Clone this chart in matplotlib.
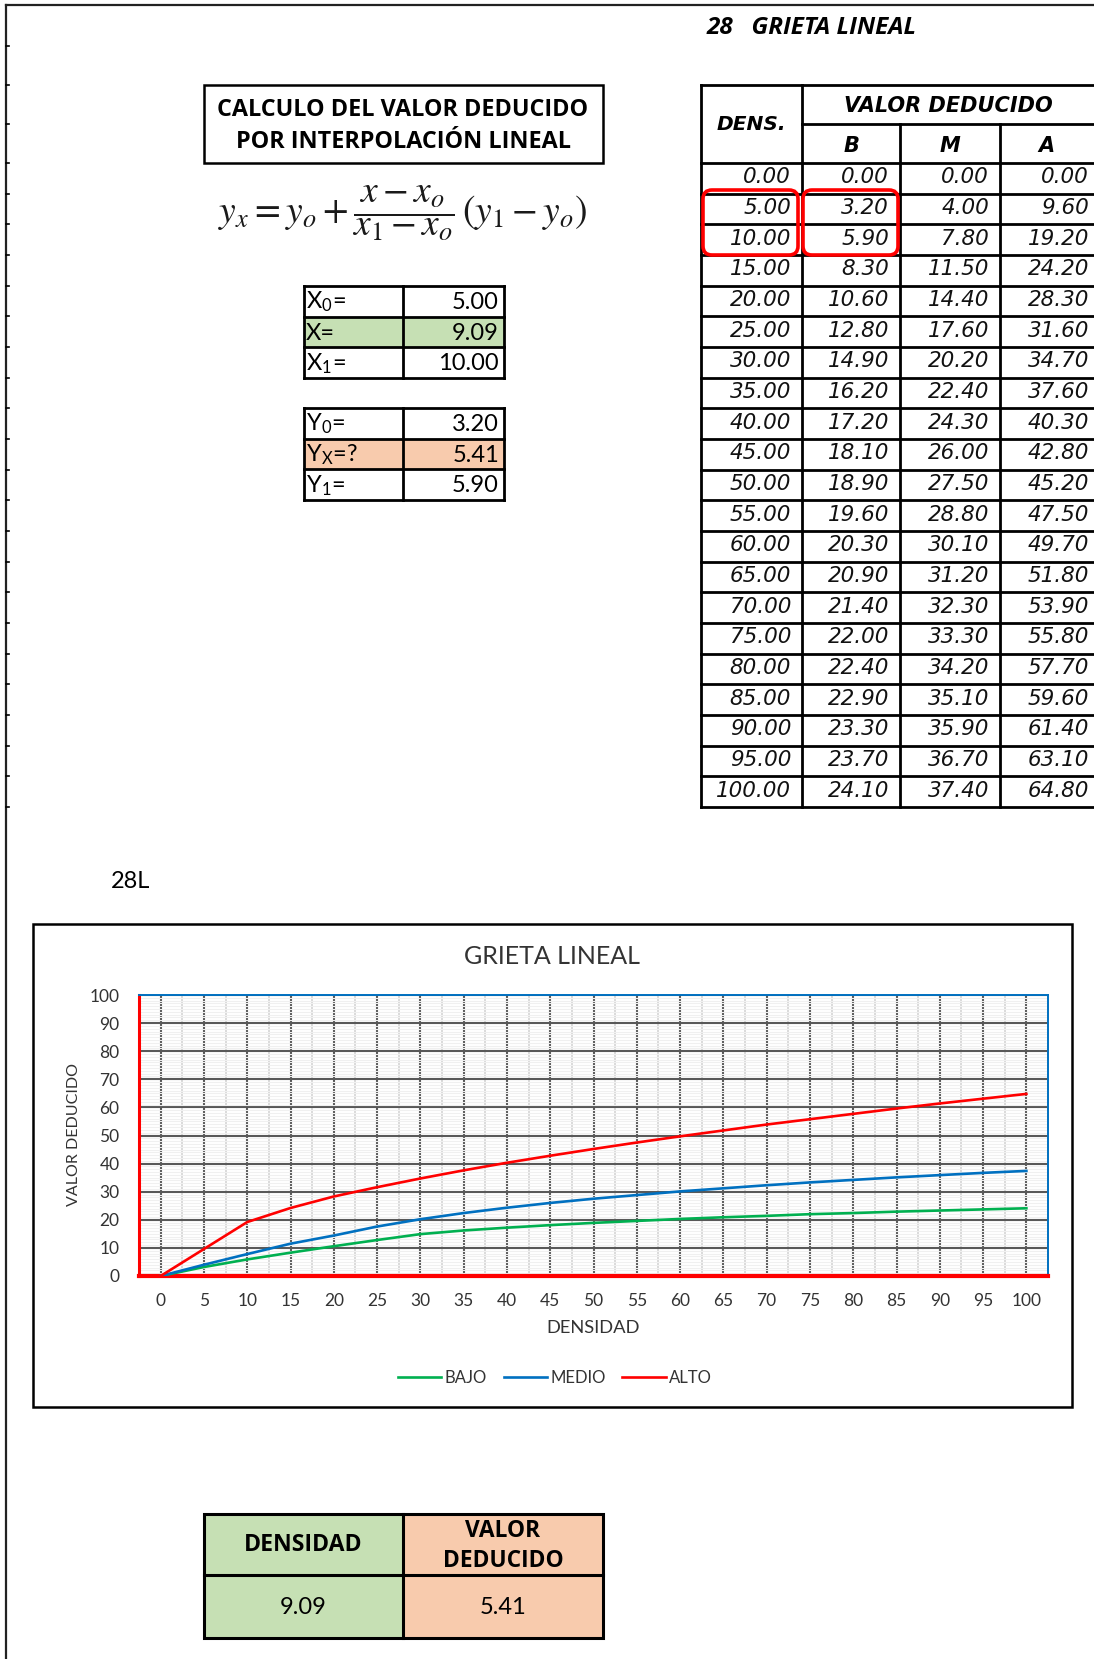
import matplotlib
matplotlib.use("Agg")
import matplotlib.pyplot as plt
from matplotlib.patches import Rectangle, FancyBboxPatch
from matplotlib.ticker import MultipleLocator

plt.rcParams['font.family'] = ['Lato', 'DejaVu Sans']
plt.rcParams['mathtext.fontset'] = 'stix'

## chart / table data
DENS = [0, 5, 10, 15, 20, 25, 30, 35, 40, 45, 50, 55, 60, 65, 70, 75, 80, 85, 90, 95, 100]
BAJO = [0.0, 3.2, 5.9, 8.3, 10.6, 12.8, 14.9, 16.2, 17.2, 18.1, 18.9,
        19.6, 20.3, 20.9, 21.4, 22.0, 22.4, 22.9, 23.3, 23.7, 24.1]
MEDIO = [0.0, 4.0, 7.8, 11.5, 14.4, 17.6, 20.2, 22.4, 24.3, 26.0, 27.5,
         28.8, 30.1, 31.2, 32.3, 33.3, 34.2, 35.1, 35.9, 36.7, 37.4]
ALTO = [0.0, 9.6, 19.2, 24.2, 28.3, 31.6, 34.7, 37.6, 40.3, 42.8, 45.2,
        47.5, 49.7, 51.8, 53.9, 55.8, 57.7, 59.6, 61.4, 63.1, 64.8]

# interpolation inputs
X_LABELS = [r'X$_\mathregular{0}$=', 'X=', r'X$_\mathregular{1}$=']
X_VALUES = [5.00, 9.09, 10.00]
Y_LABELS = [r'Y$_\mathregular{0}$=', r'Y$_\mathregular{X}$=?', r'Y$_\mathregular{1}$=']
Y_VALUES = [3.20, 5.41, 5.90]
RESULT_DENS = 9.09
RESULT_VD = 5.41

GREEN_FILL = '#C6E0B4'
PEACH_FILL = '#F8CBAD'
BOLD = ['Open Sans', 'DejaVu Sans']

W, H = 1094, 1659
fig = plt.figure(figsize=(W/100, H/100), dpi=100)

# page layer in pixel coordinates
pg = fig.add_axes([0, 0, 1, 1])
pg.set_xlim(0, W)
pg.set_ylim(H, 0)
pg.axis('off')

def hline(y, x0, x1, lw=2.0, c='black'):
    pg.plot([x0, x1], [y, y], color=c, lw=lw, solid_capstyle='projecting')

def vline(x, y0, y1, lw=2.0, c='black'):
    pg.plot([x, x], [y0, y1], color=c, lw=lw, solid_capstyle='projecting')

# sheet border
hline(5, 6, W, lw=1.6, c='#222222')
vline(6, 5, H, lw=1.6, c='#222222')

# title box
pg.add_patch(Rectangle((204, 85), 399, 78, fill=False, lw=1.8, ec='black'))
pg.text(403, 110, 'CALCULO DEL VALOR DEDUCIDO', ha='center', va='center',
        fontsize=16.8, fontweight='bold', family=BOLD)
pg.text(403, 142, 'POR INTERPOLACIÓN LINEAL', ha='center', va='center',
        fontsize=16.8, fontweight='bold', family=BOLD)

# formula
pg.text(402, 213, r'$y_x = y_o + \dfrac{x - x_o}{x_1 - x_o}\,(y_1 - y_o)$',
        ha='center', va='center', fontsize=27, color='#1a1a1a')

# small tables
def small_table(top, labels, values, fill_row, fill_color):
    rh = 30.7
    for i, (lab, val) in enumerate(zip(labels, values)):
        y = top + i*rh
        if i == fill_row:
            pg.add_patch(Rectangle((304, y), 200, rh, color=fill_color, lw=0))
        pg.text(306, y + rh/2 + 1, lab, ha='left', va='center', fontsize=17)
        pg.text(499, y + rh/2 + 1, f'{val:.2f}', ha='right', va='center', fontsize=17)
    for i in range(4):
        hline(top + i*rh, 304, 504)
    vline(304, top, top + 3*rh)
    vline(403, top, top + 3*rh)
    vline(504, top, top + 3*rh)

small_table(286, X_LABELS, X_VALUES, 1, GREEN_FILL)
small_table(408, Y_LABELS, Y_VALUES, 1, PEACH_FILL)

# reference table
pg.text(707, 28, '28   GRIETA LINEAL', ha='left', va='center', fontsize=17.5,
        fontweight='bold', fontstyle='italic', family=BOLD)
cols = [701, 802, 900, 1000, 1100]
top, mid, hb = 85, 124, 163
rh = (807 - hb) / len(DENS)
hline(top, cols[0], cols[-1])
hline(mid, cols[1], cols[-1])
for k in range(len(DENS) + 1):
    hline(hb + k*rh, cols[0], cols[-1])
vline(cols[0], top, 807)
vline(cols[1], top, 807)
vline(cols[2], mid, 807)
vline(cols[3], mid, 807)
hdr = dict(family='DejaVu Sans', fontweight='bold', fontstyle='oblique', ha='center', va='center')
pg.text((cols[0] + cols[1])/2, 125, 'DENS.', fontsize=14.5, **hdr)
pg.text((cols[1] + 1094)/2, 106, 'VALOR DEDUCIDO', fontsize=15, **hdr)
for j, lab in enumerate(['B', 'M', 'A']):
    pg.text((cols[j+1] + cols[j+2])/2 - (4 if j == 2 else 0), 146, lab, fontsize=15, **hdr)
for k, row in enumerate(zip(DENS, BAJO, MEDIO, ALTO)):
    y = hb + k*rh + rh/2 - 1
    for j, v in enumerate(row):
        pg.text(cols[j+1] - 11, y, f'{v:.2f}', ha='right', va='center', fontsize=15.5,
                family='DejaVu Sans', fontstyle='oblique', color='#111111')

# left-border row markers
for k in range(len(DENS) + 1):
    hline(hb + k*rh, 6, 9, lw=1.2)
for y in [46, top, mid]:
    hline(y, 6, 9, lw=1.2)

# red highlight boxes
for x0, x1 in [(703, 798), (803, 898)]:
    pg.add_patch(FancyBboxPatch((x0, 190), x1 - x0, 65,
                                boxstyle='round,pad=0,rounding_size=9',
                                fill=False, ec='#FF0000', lw=2.6, zorder=5))

# chart label and frame
pg.text(111, 881, '28L', ha='left', va='center', fontsize=17)
pg.add_patch(Rectangle((33, 924), 1039, 483, fill=False, lw=1.8, ec='black'))

# bottom result table
pg.add_patch(Rectangle((204, 1514), 199, 124, color=GREEN_FILL, lw=0))
pg.add_patch(Rectangle((403, 1514), 200, 124, color=PEACH_FILL, lw=0))
pg.add_patch(Rectangle((204, 1514), 399, 124, fill=False, lw=2.2, ec='black'))
hline(1575, 204, 603, lw=2.2)
vline(403, 1514, 1638, lw=2.2)
pg.text(303, 1545, 'DENSIDAD', ha='center', va='center', fontsize=16.6,
        fontweight='bold', family=BOLD)
pg.text(503, 1546, 'VALOR\nDEDUCIDO', ha='center', va='center', fontsize=16.4,
        fontweight='bold', family=BOLD, linespacing=1.3)
pg.text(303, 1607, f'{RESULT_DENS:.2f}', ha='center', va='center', fontsize=17)
pg.text(503, 1607, f'{RESULT_VD:.2f}', ha='center', va='center', fontsize=17)

# chart
ax = fig.add_axes([139/W, 1 - 1276/H, (1048 - 139)/W, (1276 - 995)/H])
ax.plot(DENS, BAJO, color='#00B050', lw=1.9, label='BAJO', zorder=3)
ax.plot(DENS, MEDIO, color='#0070C0', lw=1.9, label='MEDIO', zorder=3)
ax.plot(DENS, ALTO, color='#FF0000', lw=1.9, label='ALTO', zorder=4)
ax.set_xlim(-2.5, 102.5)
ax.set_ylim(0, 100)
ax.set_xticks(DENS)
ax.set_xticks([d + 2.5 for d in DENS[:-1]], minor=True)
ax.yaxis.set_major_locator(MultipleLocator(10))
ax.yaxis.set_minor_locator(MultipleLocator(1))
ax.grid(which='minor', axis='y', color='#F0F0F0', lw=0.8)
ax.grid(which='minor', axis='x', color='#D9D9D9', lw=1.4)
ax.grid(which='major', color='#595959', lw=1.5)
ax.set_axisbelow(True)
ax.tick_params(which='both', length=0)
ax.tick_params(axis='y', pad=14, labelsize=12.5, labelcolor='#333333')
ax.tick_params(axis='x', pad=12, labelsize=12.5, labelcolor='#333333')
for s in ['left', 'bottom']:
    ax.spines[s].set_color('#FF0000')
ax.spines['left'].set_linewidth(2.2)
ax.spines['bottom'].set_linewidth(3)
for s in ['top', 'right']:
    ax.spines[s].set_color('#0070C0')
    ax.spines[s].set_linewidth(1.4)
ax.set_xlabel('DENSIDAD', fontsize=13.2, color='#333333', labelpad=8)
fig.text(74/W, 1 - 1135/H, 'VALOR DEDUCIDO', rotation=90, ha='center', va='center',
         fontsize=11.5, color='#333333')
fig.text(552/W, 1 - 956/H, 'GRIETA LINEAL', ha='center', va='center', fontsize=18,
         color='#333333')
fig.legend(loc='center', bbox_to_anchor=(555/W, 1 - 1378/H), ncol=3, frameon=False,
           fontsize=12, handlelength=2.6, handletextpad=0.2, columnspacing=1.0,
           labelcolor='#333333')

fig.savefig('out.png', dpi=100)
